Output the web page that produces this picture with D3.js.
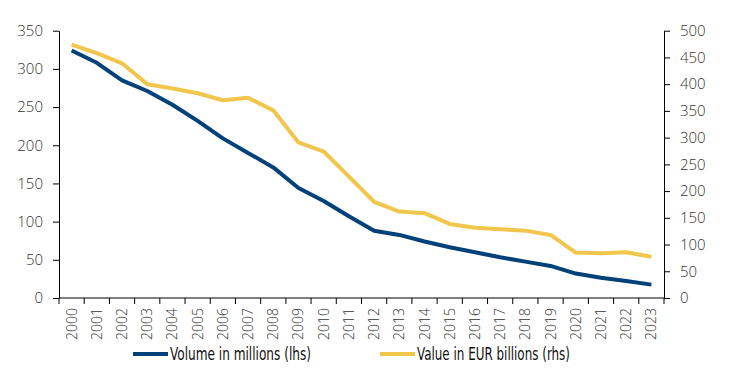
<!DOCTYPE html>
<html><head><meta charset="utf-8">
<script src="https://cdn.jsdelivr.net/npm/d3@7"></script>
<style>body{margin:0;background:#fff;}svg{display:block;}</style>
</head><body><svg id="c" width="741" height="387"></svg>
<script>
const years = ["2000","2001","2002","2003","2004","2005","2006","2007","2008","2009","2010","2011","2012","2013","2014","2015","2016","2017","2018","2019","2020","2021","2022","2023"];
const volume = [324,308,285,271,253,232,209,190,171,144,127,107,88,82.6,74,66.4,60,53.3,47.6,42,32,26.6,22.3,17.5];
const value = [474,458,439,400,392,383,370,374.5,351,291,274,227,180,161.6,158.6,138.6,131.6,128.6,126,118,85,83.7,85.6,77.3];
const leftTicks = [0,50,100,150,200,250,300,350];
const rightTicks = [0,50,100,150,200,250,300,350,400,450,500];
const seriesNames = ["Volume in millions (lhs)","Value in EUR billions (rhs)"];
const colors = ["#00417A","#F2C64C"];

const svg = d3.select("#c");
const x0 = 59, x1 = 664, yTop = 30.7, yBot = 298;
const x = d3.scaleBand().domain(years).range([x0, x1]);
const yL = d3.scaleLinear().domain([0,350]).range([yBot, yTop]);
const yR = d3.scaleLinear().domain([0,500]).range([yBot, yTop]);
const tickFont = "'Open Sans', sans-serif";
const txtCol = "#333";

function style(g){
  g.selectAll("path.domain").attr("stroke","#000").attr("stroke-width",1);
  g.selectAll(".tick line").attr("stroke","#000").attr("stroke-width",1);
  g.selectAll(".tick text").attr("fill",txtCol).style("font-family",tickFont).style("font-size","15px").style("font-weight","300");
}
const gl = svg.append("g").attr("transform",`translate(${x0},0)`).call(d3.axisLeft(yL).tickValues(leftTicks).tickSize(6).tickSizeOuter(0).tickPadding(10));
style(gl);
const gr = svg.append("g").attr("transform",`translate(${x1},0)`).call(d3.axisRight(yR).tickValues(rightTicks).tickSize(6).tickSizeOuter(0).tickPadding(10));
style(gr);
const gx = svg.append("g").attr("transform",`translate(0,${yBot})`);
gx.append("line").attr("x1",x0).attr("x2",x1).attr("stroke","#000");
const bounds = years.map(d=>x(d)).concat([x(years[years.length-1])+x.bandwidth()]);
gx.selectAll("line.t").data(bounds).join("line").attr("class","t")
  .attr("x1",d=>d).attr("x2",d=>d).attr("y1",0).attr("y2",6).attr("stroke","#000");
gx.selectAll("text").data(years).join("text")
  .attr("transform",d=>`translate(${x(d)+x.bandwidth()/2+5},10) rotate(-90)`)
  .attr("text-anchor","end").attr("fill",txtCol)
  .style("font-family",tickFont).style("font-size","14px").style("font-weight","300")
  .text(d=>d);

const lineL = d3.line().x((d,i)=>x(years[i])+x.bandwidth()/2).y(d=>yL(d));
const lineR = d3.line().x((d,i)=>x(years[i])+x.bandwidth()/2).y(d=>yR(d));
svg.append("path").datum(value).attr("d",lineR).attr("fill","none").attr("stroke",colors[1]).attr("stroke-width",4).attr("stroke-linejoin","round");
svg.append("path").datum(volume).attr("d",lineL).attr("fill","none").attr("stroke",colors[0]).attr("stroke-width",4).attr("stroke-linejoin","round");

const leg = [{x:133,t:seriesNames[0],c:colors[0],w:141},{x:380,t:seriesNames[1],c:colors[1],w:153}];
leg.forEach(l=>{
  svg.append("line").attr("x1",l.x).attr("x2",l.x+35).attr("y1",354).attr("y2",354).attr("stroke",l.c).attr("stroke-width",4);
  svg.append("text").attr("x",l.x+37).attr("y",360).attr("fill","#111")
    .attr("textLength",l.w).attr("lengthAdjust","spacingAndGlyphs")
    .style("font-family","'Liberation Sans Narrow','DejaVu Sans Condensed',sans-serif").style("font-size","17px").style("font-weight","500")
    .text(l.t);
});
</script></body></html>
